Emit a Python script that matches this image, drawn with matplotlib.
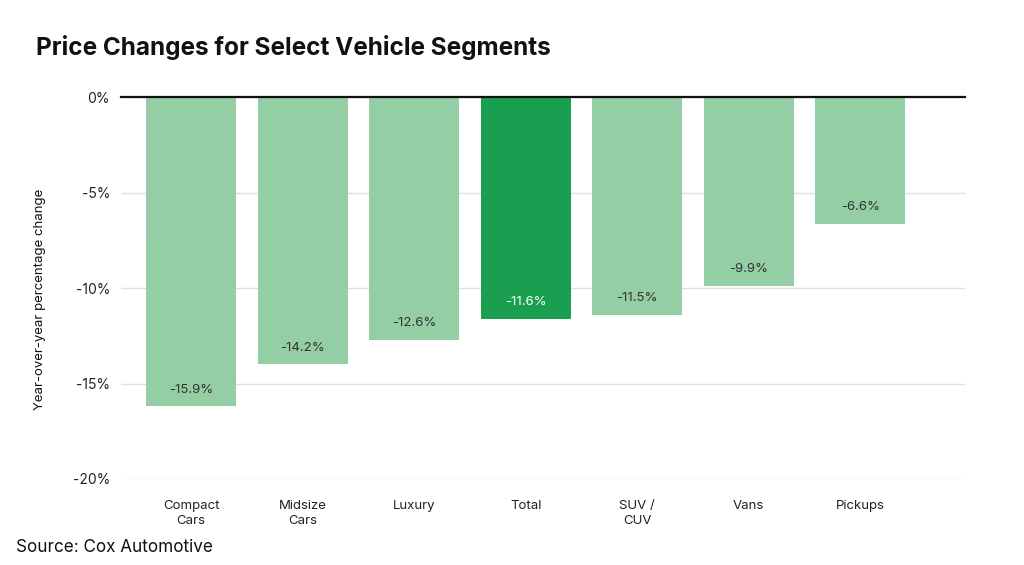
import numpy as np
import matplotlib.pyplot as plt

# values, labels as printed on the chart
segments = ['Compact\nCars', 'Midsize\nCars', 'Luxury', 'Total', 'SUV /\nCUV', 'Vans', 'Pickups']
bar_values = [-16.2, -14.0, -12.7, -11.6, -11.4, -9.9, -6.65]
bar_labels = ['-15.9%', '-14.2%', '-12.6%', '-11.6%', '-11.5%', '-9.9%', '-6.6%']
yticks = [0, -5, -10, -15, -20]
ytick_labels = ['0%', '-5%', '-10%', '-15%', '-20%']

light = '#94cea4'
dark = '#1a9f50'
colours = [dark if s == 'Total' else light for s in segments]

plt.rcParams['font.family'] = ['Inter', 'DejaVu Sans']

fig = plt.figure(figsize=(10.24, 5.65), dpi=100)
# axes box in pixels: x 121..965, y 97..479
ax = fig.add_axes([121/1024, 1-479/565, (965-121)/1024, (479-97)/565])

ind = np.arange(len(segments))
width = 0.81
ax.bar(ind, bar_values, width, color=colours, zorder=2)

# stray grey edge on the first bar
ax.vlines(ind[0]-width/2, -7.3, 0, color='#bbbbbb', lw=0.8, zorder=3)

for i in ind:
    c = 'white' if segments[i] == 'Total' else '#333333'
    ax.annotate(bar_labels[i], (i, bar_values[i]), xytext=(0, 12), textcoords='offset points',
                ha='center', va='center', fontsize=9.5, color=c, zorder=4)

ax.set_xlim(-0.63, 6.94)
ax.set_ylim(-20, 0)
ax.set_yticks(yticks)
ax.set_yticklabels(ytick_labels, fontsize=10, color='#222222')
ax.set_xticks(ind)
ax.set_xticklabels(segments, fontsize=9.5, color='#222222', linespacing=1.3)
ax.tick_params(axis='both', which='both', length=0)
ax.tick_params(axis='y', pad=8)
ax.tick_params(axis='x', pad=15)
for sp in ax.spines.values():
    sp.set_visible(False)
ax.grid(axis='y', color='#e0e0e0', lw=1, zorder=0)
ax.axhline(0, color='#111111', lw=1.6, zorder=5, clip_on=False)

ax.set_ylabel('Year-over-year percentage change', fontsize=9.5, color='#111111')
ax.yaxis.set_label_coords(-75/844, 0.47)

fig.text(36/1024, 1-47/565, 'Price Changes for Select Vehicle Segments', fontsize=17.5,
         fontweight='bold', va='center', ha='left', color='#111111')
fig.text(16/1024, 1-547/565, 'Source: Cox Automotive', fontsize=12.3, va='center', ha='left',
         color='#111111')

fig.savefig('out.png', dpi=100)
